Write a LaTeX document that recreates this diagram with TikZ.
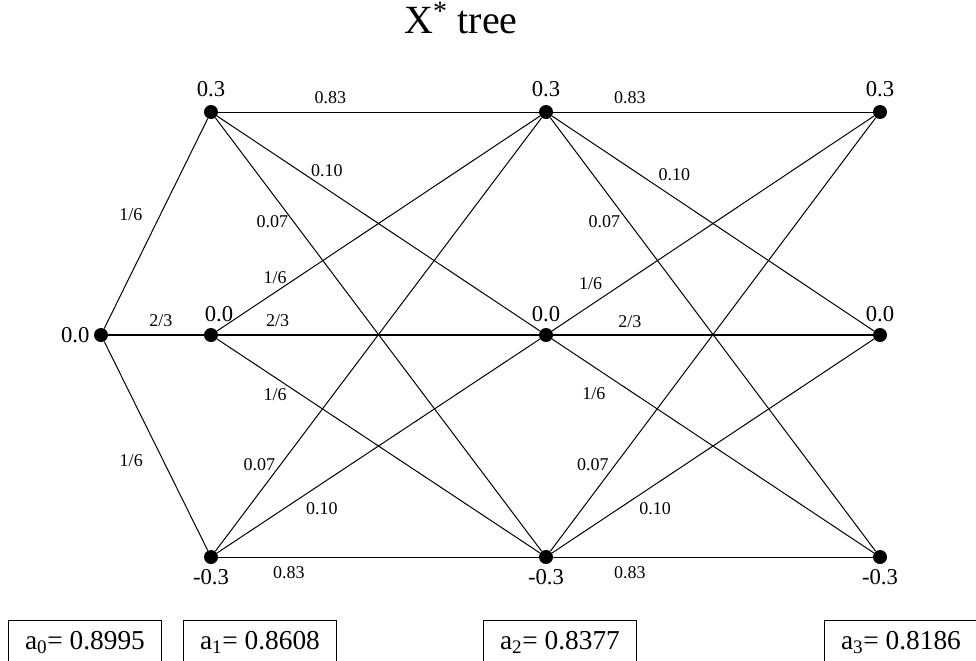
\documentclass[tikz,border=0pt]{standalone}
\usepackage{fontspec}
\setmainfont{Liberation Serif}

\tikzset{
  pt/.style={circle, fill=black, inner sep=0pt, minimum size=10.5pt},
  val/.style={font=\fontsize{17}{17}\selectfont, inner sep=1pt},
  el/.style={font=\fontsize{13.5}{13.5}\selectfont, inner sep=0pt},
  edge/.style={line width=0.75pt},
  midedge/.style={line width=1.1pt},
  abox/.style={draw, line width=0.75pt, anchor=north west, inner sep=0pt,
    minimum width=114.75pt, minimum height=33pt, font=\fontsize{20.5}{20.5}\selectfont},
}

\begin{document}
\begin{tikzpicture}[x=0.75pt, y=-0.75pt]
\clip (0,0) rectangle (976,661);
\node[font=\fontsize{30}{30}\selectfont, anchor=base east, inner sep=0pt] (title) at (518,33) {X\textsuperscript{*} tree};

\node[pt, label={[val, label distance=2pt]left:0.0}] (r) at (101,335) {};
\node[pt, label={[val, label distance=5pt]above:0.3}] (t1) at (211,112) {};
\node[pt, label={[val, label distance=3.5pt, xshift=6pt]above:0.0}] (m1) at (211,335) {};
\node[pt, label={[val, label distance=3pt]below:-0.3}] (b1) at (211,557) {};
\node[pt, label={[val, label distance=5pt]above:0.3}] (t2) at (546,112) {};
\node[pt, label={[val, label distance=3.5pt]above:0.0}] (m2) at (546,335) {};
\node[pt, label={[val, label distance=3pt]below:-0.3}] (b2) at (546,557) {};
\node[pt, label={[val, label distance=5pt]above:0.3}] (t3) at (880,112) {};
\node[pt, label={[val, label distance=3.5pt]above:0.0}] (m3) at (880,335) {};
\node[pt, label={[val, label distance=3pt]below:-0.3}] (b3) at (880,557) {};

\draw[edge] (r) -- node[el, pos=0.54, xshift=-22pt] {1/6} (t1);
\draw[midedge] (r) -- node[el, pos=0.55, yshift=10.5pt] {2/3} (m1);
\draw[edge] (r) -- node[el, pos=0.57, xshift=-24pt] {1/6} (b1);

\draw[edge] (t1) -- node[el, pos=0.35, yshift=10.5pt] {0.83} (t2);
\draw[edge] (t1) -- node[el, pos=0.34, yshift=14pt] {0.10} (m2);
\draw[edge] (t1) -- node[el, pos=0.24, xshift=-16pt] {0.07} (b2);
\draw[edge] (m1) -- node[el, pos=0.18, yshift=11pt] {1/6} (t2);
\draw[midedge] (m1) -- node[el, pos=0.185, yshift=10.5pt] {2/3} (m2);
\draw[edge] (m1) -- node[el, pos=0.18, yshift=-13pt] {1/6} (b2);
\draw[edge] (b1) -- node[el, pos=0.2, xshift=-16pt] {0.07} (t2);
\draw[edge] (b1) -- node[el, pos=0.325, yshift=-19pt] {0.10} (m2);
\draw[edge] (b1) -- node[el, pos=0.22, yshift=-12pt] {0.83} (b2);

\draw[edge] (t2) -- node[el, pos=0.24, yshift=10.5pt] {0.83} (t3);
\draw[edge] (t2) -- node[el, pos=0.38, yshift=17pt] {0.10} (m3);
\draw[edge] (t2) -- node[el, pos=0.24, xshift=-18pt] {0.07} (b3);
\draw[edge] (m2) -- node[el, pos=0.12, yshift=16pt] {1/6} (t3);
\draw[midedge] (m2) -- node[el, pos=0.24, yshift=10pt] {2/3} (m3);
\draw[edge] (m2) -- node[el, pos=0.13, yshift=-20pt] {1/6} (b3);
\draw[edge] (b2) -- node[el, pos=0.2, xshift=-17pt] {0.07} (t3);
\draw[edge] (b2) -- node[el, pos=0.32, yshift=-18pt] {0.10} (m3);
\draw[edge] (b2) -- node[el, pos=0.24, yshift=-12pt] {0.83} (b3);

\node[abox] (a0) at (8,620) {a\textsubscript{0}= 0.8995};
\node[abox] (a1) at (183,620) {a\textsubscript{1}= 0.8608};
\node[abox] (a2) at (483,620) {a\textsubscript{2}= 0.8377};
\node[abox] (a3) at (824,620) {a\textsubscript{3}= 0.8186};
\end{tikzpicture}
\end{document}
